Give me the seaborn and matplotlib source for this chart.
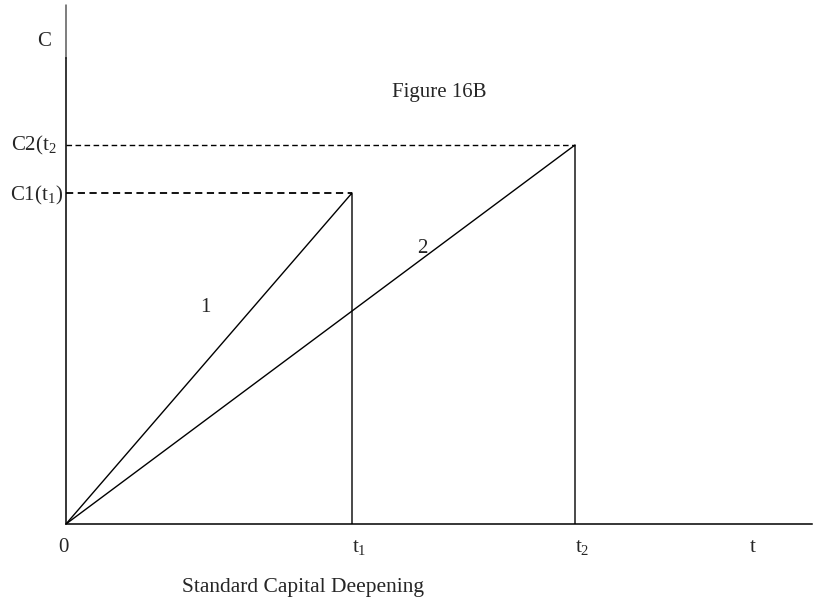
import matplotlib
matplotlib.use("agg")
import matplotlib.pyplot as plt
import seaborn as sns
import pandas as pd

# chart values (data units, origin at 0)
t1, t2, t_end = 2.86, 5.09, 7.46
c1, c2, c_top = 3.31, 3.79, 5.19
curve_ids = ["1", "1", "1", "2", "2", "2"]
curve_x = [0, t1, t1, 0, t2, t2]
curve_y = [0, c1, 0, 0, c2, 0]
tick_pos = [-0.08, t1, t2, 6.84]
tick_labels = ["0", "t$_1$", "t$_2$", "t"]

sns.set_theme(style="white")
plt.rcParams["font.family"] = ["Liberation Serif", "DejaVu Serif"]
plt.rcParams["mathtext.fontset"] = "custom"
plt.rcParams["mathtext.rm"] = "Liberation Serif"
plt.rcParams["mathtext.it"] = "Liberation Serif"
plt.rcParams["mathtext.default"] = "rm"

df = pd.DataFrame({"curve": curve_ids, "x": curve_x, "y": curve_y})

fig = plt.figure(figsize=(8.14, 6.01), dpi=100)
ax = fig.add_axes([66 / 814, 77 / 601, 746 / 814, 519 / 601])

sns.lineplot(data=df, x="x", y="y", units="curve", estimator=None, sort=False,
             color="black", linewidth=1.0, ax=ax, legend=False)

# dashed level lines
ax.plot([0, t1], [c1, c1], color="black", lw=1.3, ls=(0, (4, 2.5)))
ax.plot([0, t2], [c2, c2], color="black", lw=1.0, ls=(0, (4, 2.5)))

ax.set_xlim(0, t_end)
ax.set_ylim(0, c_top)
sns.despine(ax=ax)
for s in ["left", "bottom"]:
    ax.spines[s].set_color("black")
    ax.spines[s].set_linewidth(1.1)
# top of the vertical axis is printed lighter in the original
ax.spines["left"].set_bounds(0, 4.66)
ax.plot([0, 0], [4.66, c_top], color="#5a5a5a", lw=1.1, clip_on=False)
ax.set_xticks([])
ax.set_yticks([])
ax.set_xlabel("")
ax.set_ylabel("")

fs = 15
kw = dict(va="baseline", fontsize=fs, clip_on=False)
for pos, lab in zip(tick_pos, tick_labels):
    ax.text(pos, -0.28, lab, ha="left", **kw)
ax.text(-0.22, 4.78, "C", ha="center", **kw)
ax.text(-0.09, 3.74, "C2(t$_2$", ha="right", **kw)
ax.text(-0.03, 3.24, "C1(t$_1$)", ha="right", **kw)
ax.text(3.26, 4.27, "Figure 16B", ha="left", **kw)
ax.text(1.39, 2.12, "1", ha="center", **kw)
ax.text(3.56, 2.71, "2", ha="center", **kw)
ax.text(1.16, -0.68, "Standard Capital Deepening", ha="left", fontsize=15.5,
        va="baseline", clip_on=False)

plt.savefig("out.png", dpi=100)
